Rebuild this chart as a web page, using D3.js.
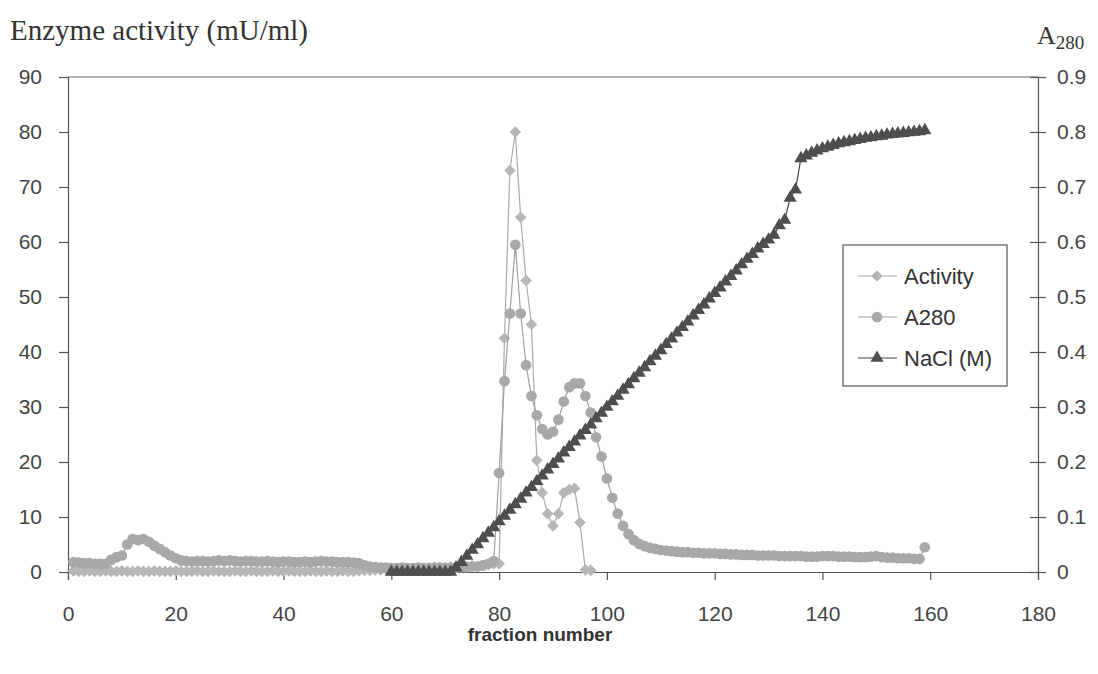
<!DOCTYPE html>
<html>
<head>
<meta charset="utf-8">
<script src="https://d3js.org/d3.v7.min.js"></script>
<style>
  html, body { margin: 0; padding: 0; background: #fff; }
  svg { display: block; }
</style>
</head>
<body>
<div id="chart"></div>
<script>
// fraction numbers and readings, taken off the figure
const activityFractions = d3.range(1, 98);
const activityValues = [
  0.2, 0.1, 0.1, 0.2, 0.1, 0.1, 0.2, 0.1, 0.1, 0.2,
  0.1, 0.1, 0.2, 0.1, 0.1, 0.2, 0.1, 0.1, 0.1, 0.2,
  0.1, 0.1, 0.1, 0.2, 0.1, 0.1, 0.2, 0.1, 0.1, 0.1,
  0.2, 0.1, 0.1, 0.2, 0.1, 0.1, 0.1, 0.2, 0.1, 0.1,
  0.2, 0.1, 0.1, 0.1, 0.2, 0.1, 0.1, 0.2, 0.1, 0.1,
  0.2, 0.1, 0.1, 0.2, 0.3, 0.3, 0.4, 0.4, 0.5, 0.5,
  0.6, 0.6, 0.5, 0.6, 0.7, 0.6, 0.7, 0.8, 0.7, 0.8,
  0.9, 0.8, 0.9, 1.0, 1.1, 1.0, 1.2, 1.4, 1.5, 1.5,
  42.5, 73, 80, 64.5, 53, 45, 20.3, 14.4, 10.6, 8.4,
  10.6, 14.4, 15, 15.2, 9, 0.4, 0.3
];

const a280Fractions = d3.range(1, 160);
const a280Values = [
  0.018, 0.017, 0.016, 0.016, 0.015, 0.015, 0.015, 0.022, 0.027, 0.030,
  0.050, 0.060, 0.058, 0.060, 0.055, 0.048, 0.042, 0.036, 0.030, 0.025,
  0.021, 0.020, 0.019, 0.020, 0.020, 0.019, 0.020, 0.021, 0.020, 0.021,
  0.020, 0.019, 0.020, 0.020, 0.019, 0.019, 0.020, 0.019, 0.018, 0.019,
  0.019, 0.018, 0.018, 0.019, 0.018, 0.019, 0.020, 0.019, 0.019, 0.018,
  0.018, 0.018, 0.017, 0.016, 0.012, 0.010, 0.009, 0.008, 0.008, 0.007,
  0.007, 0.008, 0.007, 0.007, 0.008, 0.007, 0.007, 0.008, 0.008, 0.007,
  0.008, 0.008, 0.009, 0.009, 0.010, 0.010, 0.012, 0.015, 0.020, 0.180,
  0.347, 0.470, 0.595, 0.470, 0.376, 0.320, 0.285, 0.260, 0.250, 0.255,
  0.277, 0.310, 0.336, 0.343, 0.343, 0.320, 0.290, 0.245, 0.210, 0.170,
  0.135, 0.106, 0.084, 0.069, 0.058, 0.051, 0.047, 0.044, 0.042, 0.040,
  0.039, 0.038, 0.037, 0.036, 0.036, 0.035, 0.035, 0.034, 0.034, 0.034,
  0.033, 0.033, 0.032, 0.032, 0.031, 0.031, 0.031, 0.030, 0.030, 0.030,
  0.030, 0.029, 0.029, 0.029, 0.029, 0.029, 0.028, 0.028, 0.028, 0.029,
  0.029, 0.029, 0.028, 0.028, 0.028, 0.027, 0.027, 0.027, 0.028, 0.029,
  0.027, 0.026, 0.026, 0.025, 0.025, 0.025, 0.024, 0.024, 0.045
];

const naclFractions = d3.range(60, 160);
const naclValues = [
  0.000, 0.000, 0.000, 0.000, 0.000, 0.000, 0.000, 0.000, 0.000, 0.000,
  0.000, 0.000, 0.008, 0.018, 0.029, 0.040, 0.050, 0.061, 0.071, 0.081,
  0.092, 0.102, 0.113, 0.123, 0.133, 0.144, 0.154, 0.165, 0.175, 0.186,
  0.196, 0.206, 0.217, 0.227, 0.237, 0.248, 0.258, 0.268, 0.279, 0.289,
  0.300, 0.310, 0.320, 0.331, 0.341, 0.352, 0.362, 0.372, 0.383, 0.393,
  0.403, 0.414, 0.424, 0.435, 0.445, 0.455, 0.466, 0.476, 0.486, 0.497,
  0.507, 0.517, 0.528, 0.538, 0.548, 0.559, 0.569, 0.578, 0.588, 0.596,
  0.604, 0.613, 0.630, 0.640, 0.680, 0.695, 0.752, 0.757, 0.762, 0.766,
  0.770, 0.773, 0.776, 0.779, 0.781, 0.783, 0.785, 0.787, 0.789, 0.790,
  0.792, 0.793, 0.795, 0.796, 0.797, 0.798, 0.799, 0.800, 0.801, 0.803
];

const xTicks = [0, 20, 40, 60, 80, 100, 120, 140, 160, 180];
const leftTicks = [0, 10, 20, 30, 40, 50, 60, 70, 80, 90];
const rightTicks = [0, 0.1, 0.2, 0.3, 0.4, 0.5, 0.6, 0.7, 0.8, 0.9];
const legendLabels = ["Activity", "A280", "NaCl (M)"];

const W = 1098, H = 674;
const margin = { top: 77, right: 60, bottom: 102, left: 68 };
const innerW = W - margin.left - margin.right;
const innerH = H - margin.top - margin.bottom;

const svg = d3.select("#chart").append("svg")
  .attr("width", W)
  .attr("height", H)
  .style("font-family", "'Liberation Sans', Arial, sans-serif");

const g = svg.append("g").attr("transform", `translate(${margin.left},${margin.top})`);

const x = d3.scaleLinear().domain([0, 180]).range([0, innerW]);
const yL = d3.scaleLinear().domain([0, 90]).range([innerH, 0]);
const yR = d3.scaleLinear().domain([0, 0.9]).range([innerH, 0]);

// frame: top line
g.append("line")
  .attr("x1", 0).attr("x2", innerW)
  .attr("y1", 0).attr("y2", 0)
  .attr("stroke", "#666").attr("stroke-width", 1.2);

// left axis
const leftAxis = g.append("g")
  .call(d3.axisLeft(yL).tickValues(leftTicks).tickSize(9).tickPadding(17).tickFormat(d3.format("d")));

// right axis, ticks cross the line
const rightAxis = g.append("g")
  .attr("transform", `translate(${innerW},0)`)
  .call(d3.axisRight(yR).tickValues(rightTicks).tickSize(8).tickPadding(11).tickFormat(d => d === 0 ? "0" : d3.format(".1f")(d)));
rightAxis.selectAll(".tick").append("line")
  .attr("x1", -8).attr("x2", 0)
  .attr("stroke", "currentColor");

// bottom axis
const bottomAxis = g.append("g")
  .attr("transform", `translate(0,${innerH})`)
  .call(d3.axisBottom(x).tickValues(xTicks).tickSize(8).tickPadding(26).tickFormat(d3.format("d")));

[leftAxis, rightAxis, bottomAxis].forEach(ax => {
  ax.selectAll(".domain").attr("stroke", "#555").attr("stroke-width", 1.2);
  ax.selectAll(".tick line").attr("stroke", "#555").attr("stroke-width", 1.2);
  ax.selectAll("text").attr("fill", "#444").style("font-size", "21px");
});

// series; the Excel style diamond is a square turned 45 degrees
const series = [
  {
    name: "Activity",
    pts: activityFractions.map((f, i) => [f, activityValues[i]]),
    y: yL, color: "#b6b6b6", line: "#aaaaaa", sym: d3.symbolSquare, size: 68, rot: 45
  },
  {
    name: "A280",
    pts: a280Fractions.map((f, i) => [f, a280Values[i]]),
    y: yR, color: "#a8a8a8", line: "#a0a0a0", sym: d3.symbolCircle, size: 90, rot: 0
  },
  {
    name: "NaCl (M)",
    pts: naclFractions.map((f, i) => [f, naclValues[i]]),
    y: yR, color: "#4e4e4e", line: "#444", sym: d3.symbolTriangle, size: 75, rot: 0
  }
];

series.forEach(s => {
  const line = d3.line().x(d => x(d[0])).y(d => s.y(d[1]));
  g.append("path")
    .datum(s.pts)
    .attr("d", line)
    .attr("fill", "none")
    .attr("stroke", s.line)
    .attr("stroke-width", 1.2);

  g.append("g").selectAll("path")
    .data(s.pts)
    .enter()
    .append("path")
    .attr("transform", d => `translate(${x(d[0])},${s.y(d[1])}) rotate(${s.rot})`)
    .attr("d", d3.symbol().type(s.sym).size(s.size))
    .attr("fill", s.color);
});

// titles
svg.append("text")
  .attr("x", 10).attr("y", 40)
  .attr("font-family", "'Liberation Serif', 'Times New Roman', serif")
  .attr("font-size", 29)
  .attr("fill", "#333")
  .text("Enzyme activity (mU/ml)");

const rt = svg.append("text")
  .attr("x", 1037).attr("y", 44)
  .attr("font-family", "'Liberation Serif', 'Times New Roman', serif")
  .attr("font-size", 26)
  .attr("fill", "#333");
rt.append("tspan").text("A");
rt.append("tspan").attr("font-size", 19).attr("dy", 5).text("280");

svg.append("text")
  .attr("x", 540).attr("y", 641)
  .attr("text-anchor", "middle")
  .attr("font-size", 19)
  .attr("font-weight", "bold")
  .attr("fill", "#333")
  .text("fraction number");

// legend
const legend = svg.append("g");
legend.append("rect")
  .attr("x", 843).attr("y", 245)
  .attr("width", 164).attr("height", 141)
  .attr("fill", "#fff")
  .attr("stroke", "#555").attr("stroke-width", 1.2);

series.forEach((s, i) => {
  const ly = 276 + i * 41;
  legend.append("line")
    .attr("x1", 858).attr("x2", 897)
    .attr("y1", ly).attr("y2", ly)
    .attr("stroke", s.line).attr("stroke-width", 1.2);
  legend.append("path")
    .attr("transform", `translate(877,${ly}) rotate(${s.rot})`)
    .attr("d", d3.symbol().type(s.sym).size(s.size))
    .attr("fill", s.color);
  legend.append("text")
    .attr("x", 904).attr("y", ly + 8)
    .attr("font-size", 22)
    .attr("fill", "#333")
    .text(legendLabels[i]);
});
</script>
</body>
</html>
